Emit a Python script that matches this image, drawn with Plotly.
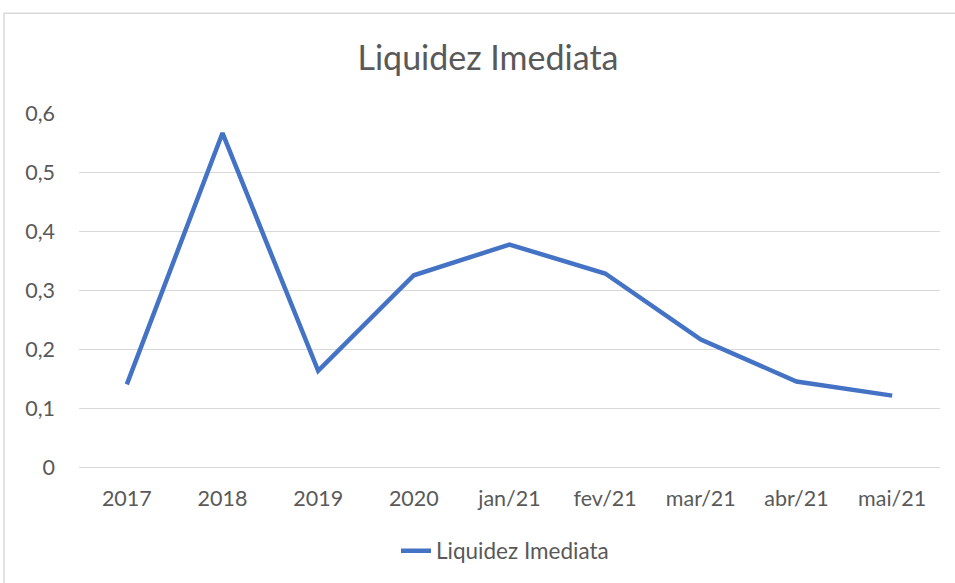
import plotly.graph_objects as go

categories = ["2017", "2018", "2019", "2020", "jan/21", "fev/21", "mar/21", "abr/21", "mai/21"]
liquidez_imediata = [0.140, 0.566, 0.163, 0.325, 0.377, 0.328, 0.216, 0.145, 0.121]
y_tick_vals = [0, 0.1, 0.2, 0.3, 0.4, 0.5, 0.6]
y_tick_text = ["0", "0,1", "0,2", "0,3", "0,4", "0,5", "0,6"]

FONT = "Lato"
GREY = "#595959"

fig = go.Figure()
fig.add_trace(go.Scatter(
    x=categories, y=liquidez_imediata, mode="lines",
    name="Liquidez Imediata",
    line=dict(color="#4472C4", width=4.5),
))

W, H = 955, 583
L, R, T, B = 79, 15, 113, 115
pw, ph = W - L - R, H - T - B

fig.update_layout(
    width=W, height=H,
    margin=dict(l=L, r=R, t=T, b=B),
    paper_bgcolor="white", plot_bgcolor="white",
    font=dict(family=FONT, color=GREY, size=21.5),
    title=dict(text="Liquidez Imediata", x=488 / W, xanchor="center",
               y=1 - 58 / H, yanchor="middle",
               font=dict(family=FONT, size=34, color=GREY)),
    showlegend=True,
    legend=dict(orientation="h", x=(505 - L) / pw, xanchor="center",
                y=(H - B - 551) / ph, yanchor="middle",
                font=dict(family=FONT, size=22.5, color=GREY)),
    xaxis=dict(type="category", range=[-0.5, 8.5], showgrid=False,
               showline=True, linecolor="#d9d9d9", linewidth=1,
               ticks="", ticklabelstandoff=12,
               tickfont=dict(family=FONT, size=21.5, color=GREY), zeroline=False),
    yaxis=dict(range=[0, 0.6], tickvals=y_tick_vals, ticktext=y_tick_text,
               showgrid=True, gridcolor="#d9d9d9", gridwidth=1,
               showline=False, zeroline=False, ticks="",
               ticklabelstandoff=23,
               tickfont=dict(family=FONT, size=21.5, color=GREY)),
    shapes=[dict(type="rect", xref="paper", yref="paper",
                 x0=(4 - L) / pw, x1=(W + 20 - L) / pw,
                 y0=(H - B - (H + 20)) / ph, y1=(H - B - 13) / ph,
                 line=dict(color="#d9d9d9", width=1.5), layer="below")],
)

fig.write_html("out.html", config={"displayModeBar": False},
               post_script="document.body.style.margin='0px';document.body.style.overflow='hidden';")
